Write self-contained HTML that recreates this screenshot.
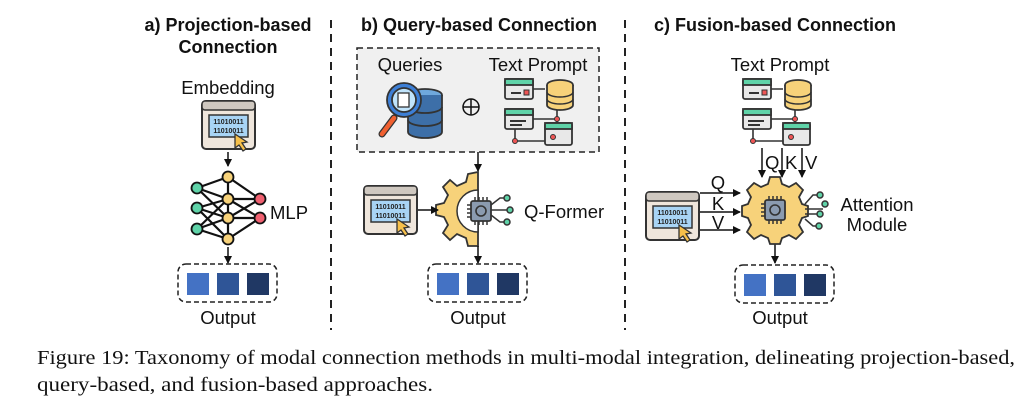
<!DOCTYPE html>
<html><head><meta charset="utf-8"><style>
html,body{margin:0;padding:0;background:#fff;}
svg{display:block;}
.t{font-family:"Liberation Sans",sans-serif;font-weight:bold;font-size:18px;fill:#111;}
.l{font-family:"Liberation Sans",sans-serif;font-size:18.5px;fill:#111;}
.c{font-family:"Liberation Serif",serif;font-size:20px;fill:#111;}
</style></head><body>
<svg width="1023" height="411" viewBox="0 0 1023 411" xmlns="http://www.w3.org/2000/svg">
<defs>
<marker id="ah" markerWidth="8" markerHeight="8" refX="7" refY="4" orient="auto" markerUnits="userSpaceOnUse">
<path d="M0,0 L8,4 L0,8 z" fill="#111"/></marker>
<g id="browser">
<rect x="0" y="0" width="53" height="48" rx="4" fill="#efe6dc" stroke="#333" stroke-width="2"/>
<rect x="0" y="0" width="53" height="9" rx="3" fill="#cfc8c0" stroke="#333" stroke-width="1.5"/>
<rect x="7" y="14" width="39" height="22" fill="#a8d4f5" stroke="#333" stroke-width="1.5"/>
<text x="26.5" y="23" font-family="Liberation Sans,sans-serif" font-size="7" font-weight="bold" text-anchor="middle" fill="#222">11010011</text>
<text x="26.5" y="32" font-family="Liberation Sans,sans-serif" font-size="7" font-weight="bold" text-anchor="middle" fill="#222">11010011</text>
<path d="M33,33 L45,41 L40,42 L44,48 L41,50 L37,44 L33,47 z" fill="#f7c04a" stroke="#333" stroke-width="1.3"/>
</g>
<g id="tprompt">
<rect x="0" y="0" width="28" height="20" rx="2" fill="#e8e8e8" stroke="#333" stroke-width="1.8"/>
<rect x="0" y="0" width="28" height="6" fill="#5fd3a8" stroke="#333" stroke-width="1.8"/>
<rect x="6" y="13" width="10" height="2" fill="#333"/><rect x="19" y="11" width="5" height="5" fill="#e55" stroke="#333"/>
<rect x="0" y="30" width="28" height="20" rx="2" fill="#e8e8e8" stroke="#333" stroke-width="1.8"/>
<rect x="0" y="30" width="28" height="6" fill="#5fd3a8" stroke="#333" stroke-width="1.8"/>
<rect x="5" y="41" width="16" height="2" fill="#333"/><rect x="5" y="45" width="12" height="2" fill="#333"/>
<rect x="40" y="44" width="27" height="22" rx="2" fill="#e8e8e8" stroke="#333" stroke-width="1.8"/>
<rect x="40" y="44" width="27" height="6" fill="#5fd3a8" stroke="#333" stroke-width="1.8"/>
<circle cx="48" cy="58" r="2.5" fill="#e55" stroke="#333"/>
<path d="M28,10 H40 M28,40 H52 V44 M52,20 V40 M10,50 V62 H40" stroke="#333" stroke-width="1.6" fill="none"/>
<circle cx="52" cy="40" r="2.5" fill="#e55" stroke="#333"/><circle cx="10" cy="62" r="2.5" fill="#e55" stroke="#333"/>
<ellipse cx="55" cy="6" rx="13" ry="5" fill="#f7d27a" stroke="#333" stroke-width="1.8"/>
<path d="M42,6 V26 A13,5 0 0 0 68,26 V6" fill="#f7d27a" stroke="#333" stroke-width="1.8"/>
<path d="M42,13 A13,5 0 0 0 68,13 M42,20 A13,5 0 0 0 68,20" fill="none" stroke="#333" stroke-width="1.5"/>
</g>
<g id="out">
<rect x="0" y="0" width="99" height="38" rx="8" fill="none" stroke="#222" stroke-width="1.5" stroke-dasharray="5,3"/>
<rect x="9" y="9" width="22" height="22" fill="#4472c4"/>
<rect x="39" y="9" width="22" height="22" fill="#2f5597"/>
<rect x="69" y="9" width="22" height="22" fill="#203864"/>
</g>
<g id="chip">
<rect x="-10" y="-10" width="20" height="20" rx="2" fill="#8b9bb0" stroke="#333" stroke-width="1.8"/>
<circle cx="0" cy="0" r="5" fill="#8b9bb0" stroke="#333" stroke-width="1.6"/>
<path d="M-6,-10 V-14 M-2,-10 V-14 M2,-10 V-14 M6,-10 V-14 M-6,10 V14 M-2,10 V14 M2,10 V14 M6,10 V14 M-10,-6 H-14 M-10,-2 H-14 M-10,2 H-14 M-10,6 H-14" stroke="#333" stroke-width="1.5"/>
</g>
</defs>

<line x1="331" y1="20" x2="331" y2="330" stroke="#222" stroke-width="2" stroke-dasharray="8,6"/>
<line x1="625" y1="20" x2="625" y2="330" stroke="#222" stroke-width="2" stroke-dasharray="8,6"/>

<!-- Panel a -->
<text class="t" x="228" y="31" text-anchor="middle">a) Projection-based</text>
<text class="t" x="228" y="53" text-anchor="middle">Connection</text>
<text class="l" x="228" y="94" text-anchor="middle">Embedding</text>
<use href="#browser" x="202" y="101"/>
<line x1="228" y1="152" x2="228" y2="166" stroke="#111" stroke-width="1.5" marker-end="url(#ah)"/>
<g stroke="#111" stroke-width="2.2">
<path d="M197,188 L228,177 M197,188 L228,199 M197,188 L228,218 M197,208 L228,199 M197,208 L228,218 M197,208 L228,239 M197,229 L228,218 M197,229 L228,239 M197,229 L228,199
M228,177 L260,199 M228,199 L260,199 M228,199 L260,218 M228,218 L260,199 M228,218 L260,218 M228,239 L260,218 M228,177 V239"/>
</g>
<g stroke="#111" stroke-width="1.8">
<circle cx="197" cy="188" r="5.5" fill="#5fd3a8"/><circle cx="197" cy="208" r="5.5" fill="#5fd3a8"/><circle cx="197" cy="229" r="5.5" fill="#5fd3a8"/>
<circle cx="228" cy="177" r="5.5" fill="#f7d27a"/><circle cx="228" cy="199" r="5.5" fill="#f7d27a"/><circle cx="228" cy="218" r="5.5" fill="#f7d27a"/><circle cx="228" cy="239" r="5.5" fill="#f7d27a"/>
<circle cx="260" cy="199" r="5.5" fill="#f06070"/><circle cx="260" cy="218" r="5.5" fill="#f06070"/>
</g>
<text class="l" x="270" y="219">MLP</text>
<line x1="228" y1="247" x2="228" y2="263" stroke="#111" stroke-width="1.5" marker-end="url(#ah)"/>
<use href="#out" x="178" y="264"/>
<text class="l" x="228" y="324" text-anchor="middle">Output</text>

<!-- Panel b -->
<text class="t" x="479" y="31" text-anchor="middle">b) Query-based Connection</text>
<rect x="357" y="48" width="242" height="104" fill="#f0f0f0" stroke="#222" stroke-width="1.5" stroke-dasharray="6,4"/>
<text class="l" x="410" y="71" text-anchor="middle">Queries</text>
<text class="l" x="538" y="71" text-anchor="middle">Text Prompt</text>
<g stroke="#333" stroke-width="1.8">
<ellipse cx="425" cy="95" rx="17" ry="6" fill="#6fa8dc"/>
<path d="M408,95 V132 A17,6 0 0 0 442,132 V95" fill="#3d6fa8"/>
<path d="M408,107 A17,6 0 0 0 442,107 M408,120 A17,6 0 0 0 442,120" fill="none"/>
<line x1="394" y1="118" x2="382" y2="134" stroke="#333" stroke-width="7" stroke-linecap="round"/>
<line x1="394" y1="118" x2="382" y2="134" stroke="#f06030" stroke-width="4.5" stroke-linecap="round"/>
<circle cx="404" cy="100" r="17" fill="#3d7fd6"/>
<circle cx="404" cy="100" r="12" fill="#bfe3fb"/>
<rect x="398" y="93" width="11" height="14" fill="#fff" stroke-width="1.3"/>
</g>
<circle cx="471" cy="107" r="8" fill="none" stroke="#111" stroke-width="1.5"/>
<path d="M463,107 H479 M471,99 V115" stroke="#111" stroke-width="1.5"/>
<use href="#tprompt" x="505" y="79"/>
<line x1="478" y1="152" x2="478" y2="171" stroke="#111" stroke-width="1.5" marker-end="url(#ah)"/>
<path d="M478,172 V246 L468,246 L466,238 L457,234 L450,240 L443,233 L448,225 L444,217 L436,215 V205 L444,203 L448,195 L443,187 L450,180 L457,186 L466,182 L468,174 Z" fill="#f7d27a" stroke="#333" stroke-width="1.8"/>
<path d="M478,190 A20,20 0 0 0 478,232 Z" fill="#fff" stroke="#333" stroke-width="1.5"/>
<use href="#chip" x="481" y="211"/>
<g stroke="#333" stroke-width="1.5" fill="#5fd3a8">
<path d="M491,205 L500,198 H505 M491,210 H508 M491,215 L500,222 H505" fill="none"/>
<circle cx="507" cy="198" r="3"/><circle cx="510" cy="210" r="3"/><circle cx="507" cy="222" r="3"/>
</g>
<text class="l" x="524" y="218">Q-Former</text>
<use href="#browser" x="364" y="186"/>
<line x1="418" y1="210" x2="438" y2="210" stroke="#111" stroke-width="1.5" marker-end="url(#ah)"/>
<line x1="478" y1="246" x2="478" y2="263" stroke="#111" stroke-width="1.5" marker-end="url(#ah)"/>
<use href="#out" x="428" y="264"/>
<text class="l" x="478" y="324" text-anchor="middle">Output</text>

<!-- Panel c -->
<text class="t" x="775" y="31" text-anchor="middle">c) Fusion-based Connection</text>
<text class="l" x="780" y="71" text-anchor="middle">Text Prompt</text>
<use href="#tprompt" x="743" y="79"/>
<g stroke="#111" stroke-width="1.5">
<line x1="762" y1="148" x2="762" y2="177" marker-end="url(#ah)"/>
<line x1="782" y1="148" x2="782" y2="177" marker-end="url(#ah)"/>
<line x1="802" y1="148" x2="802" y2="177" marker-end="url(#ah)"/>
<line x1="700" y1="193" x2="740" y2="193" marker-end="url(#ah)"/>
<line x1="700" y1="212" x2="740" y2="212" marker-end="url(#ah)"/>
<line x1="700" y1="230" x2="740" y2="230" marker-end="url(#ah)"/>
<line x1="775" y1="243" x2="775" y2="263" marker-end="url(#ah)"/>
</g>
<text class="l" x="765" y="169">Q</text><text class="l" x="785" y="169">K</text><text class="l" x="805" y="169">V</text>
<text class="l" x="718" y="189" text-anchor="middle">Q</text>
<text class="l" x="718" y="210" text-anchor="middle">K</text>
<text class="l" x="718" y="229" text-anchor="middle">V</text>
<use href="#browser" x="646" y="192"/>
<g transform="translate(775,210)">
<path d="M-5,-31 H5 L7,-24 L14,-21 L21,-25 L28,-18 L24,-11 L27,-4 L33,-2 V8 L27,10 L24,17 L28,24 L21,31 L14,27 L7,30 L5,36 H-5 L-7,30 L-14,27 L-21,31 L-28,24 L-24,17 L-27,10 L-33,8 V-2 L-27,-4 L-24,-11 L-28,-18 L-21,-25 L-14,-21 L-7,-24 Z" fill="#f7d27a" stroke="#333" stroke-width="1.8" transform="translate(0,-2)"/>
<use href="#chip" x="0" y="0"/>
</g>
<g stroke="#333" stroke-width="1.5" fill="#5fd3a8">
<path d="M805,204 L813,195 H818 M805,209 H823 M805,214 H818 M805,219 L813,226 H817" fill="none"/>
<circle cx="820" cy="195" r="3"/><circle cx="825" cy="204" r="3"/><circle cx="820" cy="214" r="3"/><circle cx="819" cy="226" r="3"/>
</g>
<text class="l" x="877" y="211" text-anchor="middle">Attention</text>
<text class="l" x="877" y="231" text-anchor="middle">Module</text>
<use href="#out" x="735" y="265"/>
<text class="l" x="780" y="324" text-anchor="middle">Output</text>

<text class="c" x="37" y="364" textLength="978" lengthAdjust="spacingAndGlyphs">Figure 19: Taxonomy of modal connection methods in multi-modal integration, delineating projection-based,</text>
<text class="c" x="37" y="391" textLength="396" lengthAdjust="spacingAndGlyphs">query-based, and fusion-based approaches.</text>
</svg>
</body></html>
